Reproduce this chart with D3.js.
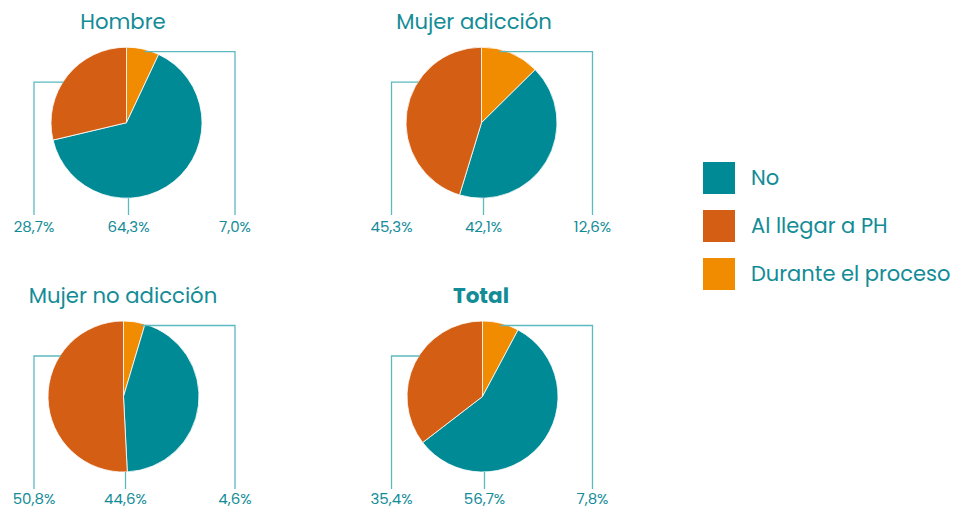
<!DOCTYPE html>
<html>
<head>
<meta charset="utf-8">
<script src="https://cdn.jsdelivr.net/npm/d3@7"></script>
<style>
  html, body { margin: 0; padding: 0; background: #ffffff; }
  svg { display: block; }
  text { font-family: "Poppins", "Noto Sans", sans-serif; }
</style>
</head>
<body>
<svg id="chart" width="954" height="509"></svg>
<script>
// ---- data ----
const categories = ["Durante el proceso", "No", "Al llegar a PH"];
const legendOrder = ["No", "Al llegar a PH", "Durante el proceso"];
const groups = ["Hombre", "Mujer adicción", "Mujer no adicción", "Total"];
const valuesHombre = [7.0, 64.3, 28.7];
const valuesMujerAdiccion = [12.6, 42.1, 45.3];
const valuesMujerNoAdiccion = [4.6, 44.6, 50.8];
const valuesTotal = [7.8, 56.7, 35.4];
const labelsHombre = ["7,0%", "64,3%", "28,7%"];
const labelsMujerAdiccion = ["12,6%", "42,1%", "45,3%"];
const labelsMujerNoAdiccion = ["4,6%", "44,6%", "50,8%"];
const labelsTotal = ["7,8%", "56,7%", "35,4%"];

const colorMap = {"No": "#008a95", "Al llegar a PH": "#d45f14", "Durante el proceso": "#f18b00"};
const textColor = "#138c97";
const lineColor = "#5cb9c0";

const svg = d3.select("#chart");
const color = d3.scaleOrdinal().domain(categories).range(categories.map(c => colorMap[c]));

const panels = [
  {title: groups[0], values: valuesHombre, labels: labelsHombre, cx: 126.5, cy: 122.7, tx: 123, ty: 29, bold: false, lx: 34, rx: 235, by: 215, ly: 231.5},
  {title: groups[1], values: valuesMujerAdiccion, labels: labelsMujerAdiccion, cx: 481.5, cy: 122.7, tx: 474, ty: 29, bold: false, lx: 391.5, rx: 592.5, by: 215, ly: 231.5},
  {title: groups[2], values: valuesMujerNoAdiccion, labels: labelsMujerNoAdiccion, cx: 123.5, cy: 396.5, tx: 123, ty: 303, bold: false, lx: 34, rx: 235, by: 489, ly: 504},
  {title: groups[3], values: valuesTotal, labels: labelsTotal, cx: 482.5, cy: 396.5, tx: 481, ty: 303, bold: true, lx: 391.5, rx: 592.5, by: 489, ly: 504}
];

const r = 75.5;
const pie = d3.pie().sort(null).value(d => d.v);
const arc = d3.arc().innerRadius(0).outerRadius(r);

panels.forEach(p => {
  const data = categories.map((c, i) => ({c, v: p.values[i], label: p.labels[i]}));
  const g = svg.append("g").attr("transform", `translate(${p.cx},${p.cy})`);
  g.selectAll("path").data(pie(data)).join("path")
    .attr("d", arc)
    .attr("fill", d => color(d.data.c))
    .attr("stroke", "#ffffff")
    .attr("stroke-width", 0.8);

  // title
  svg.append("text")
    .attr("x", p.tx).attr("y", p.ty)
    .attr("text-anchor", "middle")
    .attr("fill", textColor)
    .attr("font-size", p.bold ? 21.5 : 21.2)
    .attr("font-weight", p.bold ? 700 : 400)
    .text(p.title);

  const byC = {};
  data.forEach(d => byC[d.c] = d);

  // leader lines
  const lineG = svg.append("g").attr("fill", "none").attr("stroke", lineColor).attr("stroke-width", 1.3);
  const yR = p.cy - 71;
  lineG.append("path").attr("d", `M${p.cx + 18},${yR}H${p.rx}V${p.by}`);
  const yL = p.cy - 40.5;
  const xL = p.cx - Math.sqrt(r * r - 40.5 * 40.5) + 1;
  lineG.append("path").attr("d", `M${xL},${yL}H${p.lx}V${p.by}`);
  lineG.append("path").attr("d", `M${p.cx + 2},${p.cy + r}V${p.by}`);

  const lab = svg.append("g").attr("fill", textColor).attr("font-size", 15).attr("text-anchor", "middle");
  lab.append("text").attr("x", p.lx).attr("y", p.ly).text(byC["Al llegar a PH"].label);
  lab.append("text").attr("x", p.cx + 2).attr("y", p.ly).text(byC["No"].label);
  lab.append("text").attr("x", p.rx).attr("y", p.ly).text(byC["Durante el proceso"].label);
});

// legend
const legend = svg.append("g").attr("transform", "translate(703,162)");
legendOrder.forEach((c, i) => {
  const row = legend.append("g").attr("transform", `translate(0,${i * 48})`);
  row.append("rect").attr("width", 32).attr("height", 32).attr("fill", color(c));
  row.append("text").attr("x", 48).attr("y", 22.5)
    .attr("fill", textColor).attr("font-size", 21).text(c);
});
</script>
</body>
</html>
